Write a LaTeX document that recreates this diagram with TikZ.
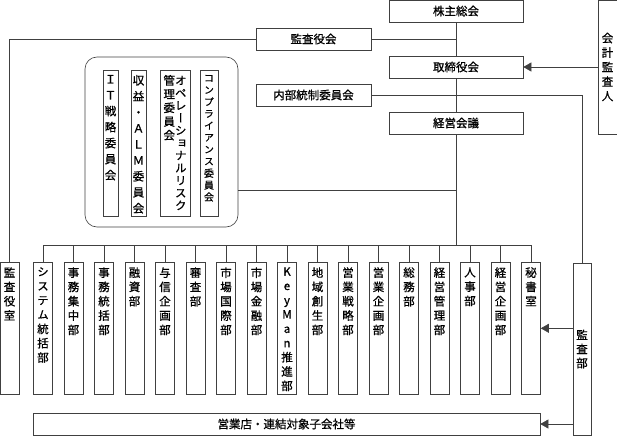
\documentclass[tikz,border=0pt]{standalone}
\usepackage{fontspec}
\setmainfont{Noto Sans CJK JP}[FakeBold=0.8]
\newfontfamily\tatefont[RawFeature=+vert,FakeBold=0.8]{Noto Sans CJK JP}
\usetikzlibrary{arrows.meta}

% vertical text: one character per line
\newcommand\tate[1]{\expandafter\tatestep#1\relax}
\def\tatestep#1{\ifx#1\relax\else\hbox to 1em{\hss#1\hss}\expandafter\tatestep\fi}
\newcommand\tatecol[2]{\vtop{\tatefont\baselineskip=#1pt\lineskiplimit=-20pt\tate{#2}}}
\newcommand\tatetop[2]{\vbox to #1pt{\kern3pt\hbox{#2}\vss}}

\begin{document}
\begin{tikzpicture}[x=1pt,y=-1pt,
  line/.style={black!75,line width=.6pt},
  arr/.style={line,-{Triangle[length=8pt,width=9pt]}},
  box/.style={draw=black!75,line width=.6pt,fill=white,inner sep=0pt,font=\fontsize{11.5}{14}\selectfont},
  wide/.style={box,minimum width=134pt,minimum height=22pt},
  mid/.style={box,minimum width=115pt,minimum height=22pt},
  dept/.style={box,anchor=north,minimum width=19pt,minimum height=132pt,font=\fontsize{11.5}{14}\selectfont},
  iin/.style={box,minimum height=146pt,font=\fontsize{11.5}{14}\selectfont}]
\useasboundingbox (0,0) rectangle (617,436);

% top
\node[wide] (soukai) at (456,11) {株主総会};
\node[mid] (kansayakukai) at (313.5,39) {監査役会};
\node[wide] (torishimari) at (456,67) {取締役会};
\node[mid] (naibu) at (313.5,95) {内部統制委員会};
\node[wide] (keiei) at (456,123) {経営会議};
\node[box,minimum width=19pt,minimum height=134pt] (kaikei) at (607.5,67) {\tatecol{14.5}{会計監査人}};
\coordinate (bus) at (456,245);

% committees
\node[draw=black!75,line width=.6pt,rounded corners=12pt,minimum width=153pt,minimum height=170pt] (iinkai) at (161.5,142) {};
\node[iin,minimum width=15pt] (it) at (110.5,143) {\tatetop{142}{\tatecol{16}{ＩＴ戦略委員会}}};
\node[iin,minimum width=15pt] (alm) at (138.5,143) {\tatetop{142}{\tatecol{16}{収益・ＡＬＭ委員会}}};
\node[iin,minimum width=30pt] (ope) at (175,143) {\tatetop{142}{\tatecol{13.7}{管理委員会}\tatecol{12.5}{オペレーショナルリスク}}};
\node[iin,minimum width=18pt,font=\fontsize{10}{12}\selectfont] (comp) at (209,143) {\tatetop{142}{\tatecol{11.9}{コンプライアンス委員会}}};

% departments
\node[dept] (shitsu) at (9.5,262) {\tatetop{128}{\tatecol{14.3}{監査役室}}};
\foreach \name [count=\i from 0] in {システム統括部,事務集中部,事務統括部,融資部,与信企画部,審査部,市場国際部,市場金融部,KeyMan推進部,地域創生部,営業戦略部,営業企画部,総務部,経営管理部,人事部,経営企画部,秘書室} {
 \node[dept] (d\i) at ({43+30.5*\i},262) {\tatetop{128}{\tatecol{14.3}{\name}}};
 \draw[line] (d\i.north) -- (d\i.north |- bus);
}
\node[box,minimum width=18pt,minimum height=172pt] (kansabu) at (582,349) {\tatecol{14}{監査部}};
\node[box,minimum width=507pt,minimum height=22pt] (eigyo) at (286.5,424) {営業店・連結対象子会社等};

% connectors
\draw[line] (soukai) -- (torishimari) -- (keiei) -- (bus);
\draw[line] (d0.north |- bus) -- (d16.north |- bus);
\draw[line] (kansayakukai.east) -- (kansayakukai.east -| soukai.south);
\draw[line] (kansayakukai.west) -| (shitsu.north);
\draw[line] (naibu.east) -| (kansabu.north);
\draw[line] (iinkai.east |- 0,190) -- (soukai.south |- 0,190);
\draw[arr] (kaikei.west |- torishimari.east) -- (torishimari.east);
\draw[arr] (kansabu.west |- d16.east) -- (d16.east);
\draw[arr] (kansabu.west |- eigyo.east) -- (eigyo.east);
\end{tikzpicture}
\end{document}
